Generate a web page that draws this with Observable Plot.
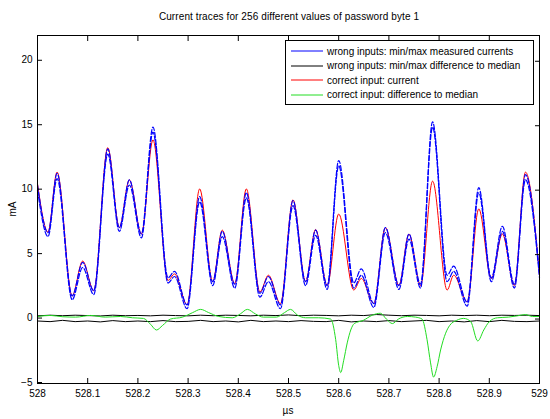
<!DOCTYPE html>
<html>
<head>
<meta charset="utf-8">
<script src="https://cdn.jsdelivr.net/npm/d3@7"></script>
<script src="https://cdn.jsdelivr.net/npm/@observablehq/plot@0.6"></script>
<style>
  html, body { margin: 0; padding: 0; background: #fff; }
  #wrap { position: relative; width: 550px; height: 419px; font-family: "Liberation Sans", Arial, sans-serif; color: #000; }
  #title { position: absolute; left: 0; top: 11px; width: 578px; text-align: center; font-size: 10px; letter-spacing: 0.1px; }
  #ylab { position: absolute; left: 12px; top: 209px; font-size: 10px; transform: translate(-50%, -50%) rotate(-90deg); }
  #xlab { position: absolute; left: 288px; top: 410px; font-size: 10px; transform: translate(-50%, -50%); }
  #legend { position: absolute; left: 285px; top: 40px; width: 247px; height: 63px; border: 1px solid #000; background: #fff; font-size: 10px; }
  .row { position: absolute; left: 5px; height: 14px; display: flex; align-items: center; white-space: nowrap; }
  .row svg { margin-right: 4px; }
  #chart { position: absolute; left: 0; top: 0; }
</style>
</head>
<body>
<div id="wrap">
  <div id="chart"></div>
  <div id="title"></div>
  <div id="ylab"></div>
  <div id="xlab"></div>
  <div id="legend"></div>
</div>
<script>
// ---- Text ----
const titleText = "Current traces for 256 different values of password byte 1";
const xLabel = "µs";
const yLabel = "mA";
const legendLabels = [
  "wrong inputs: min/max measured currents",
  "wrong inputs: min/max difference to median",
  "correct input: current",
  "correct input: difference to median"
];
const legendColors = ["#0000ff", "#000000", "#ff0000", "#22dd22"];

// ---- Ticks ----
const xTicks = [528, 528.1, 528.2, 528.3, 528.4, 528.5, 528.6, 528.7, 528.8, 528.9, 529];
const yTicks = [-5, 0, 5, 10, 15, 20];

// ---- Current traces (µs, mA) at peaks/troughs ----
const tTrace = [528.000, 528.021, 528.039, 528.069, 528.090, 528.112, 528.140, 528.163, 528.183, 528.207,
                528.230, 528.260, 528.273, 528.298, 528.323, 528.349, 528.368, 528.393, 528.416, 528.443,
                528.460, 528.484, 528.509, 528.534, 528.554, 528.577, 528.600, 528.630, 528.645, 528.670,
                528.693, 528.720, 528.740, 528.763, 528.787, 528.816, 528.829, 528.856, 528.879, 528.904,
                528.926, 528.950, 528.972, 529.000];
const redCurrent = [10.5, 6.75, 11.4, 1.8, 4.5, 2.2, 13.3, 7.1, 10.8, 6.6,
                    13.9, 3.0, 3.5, 1.1, 10.1, 2.9, 6.9, 2.75, 10.1, 2.1,
                    3.4, 1.2, 9.25, 2.9, 6.95, 2.6, 8.15, 2.25, 3.15, 1.2,
                    7.1, 2.6, 6.6, 2.6, 10.7, 2.25, 3.4, 1.35, 8.55, 3.15,
                    6.6, 2.6, 11.4, 3.4];
const blueMax = [10.4, 6.7, 11.3, 1.8, 4.4, 2.2, 13.2, 7.1, 10.8, 6.6,
                 14.9, 3.2, 3.7, 1.1, 9.5, 2.9, 6.8, 2.7, 9.8, 2.0,
                 3.3, 1.1, 9.2, 2.9, 6.9, 2.6, 12.3, 2.8, 3.9, 1.2,
                 7.1, 2.6, 6.6, 2.7, 15.3, 3.4, 4.1, 1.3, 10.2, 3.2,
                 7.2, 2.7, 11.2, 3.5];
const blueMin = [10.0, 6.4, 10.9, 1.5, 4.0, 1.9, 12.8, 6.8, 10.4, 6.3,
                 14.5, 2.8, 3.3, 0.8, 9.1, 2.6, 6.4, 2.4, 9.4, 1.7,
                 2.9, 0.8, 8.8, 2.6, 6.5, 2.3, 11.9, 2.4, 3.4, 0.9,
                 6.7, 2.3, 6.2, 2.4, 14.9, 2.9, 3.7, 1.0, 9.8, 2.9,
                 6.8, 2.4, 10.8, 3.2];

// ---- Correct input: difference to median ----
const tGreen = [528.000, 528.026, 528.050, 528.076, 528.106, 528.135, 528.165, 528.189, 528.211, 528.225,
                528.237, 528.249, 528.265, 528.289, 528.309, 528.325, 528.341, 528.361, 528.388, 528.404,
                528.418, 528.434, 528.450, 528.476, 528.492, 528.504, 528.518, 528.534, 528.560, 528.584,
                528.594, 528.600, 528.604, 528.610, 528.617, 528.624, 528.631, 528.649, 528.667, 528.683,
                528.695, 528.707, 528.719, 528.737, 528.753, 528.766, 528.776, 528.783, 528.789, 528.796,
                528.803, 528.813, 528.821, 528.835, 528.849, 528.863, 528.877, 528.889, 528.900, 528.916,
                528.938, 528.956, 528.972, 528.986, 529.000];
const greenDiff = [0.2, 0.28, 0.18, 0.15, 0.28, 0.15, 0.2, 0.1, 0.05, -0.4,
                   -0.85, -0.5, 0.0, 0.15, 0.5, 0.75, 0.5, 0.2, 0.1, 0.4,
                   0.75, 0.4, 0.15, 0.15, 0.5, 0.75, 0.3, 0.1, 0.1, 0.0,
                   -1.6, -3.6, -4.15, -3.2, -1.85, -0.85, -0.35, -0.1, 0.3, 0.45,
                   0.0, -0.35, 0.0, 0.2, 0.15, 0.0, -1.6, -3.4, -4.5, -3.7,
                   -2.4, -1.1, -0.5, -0.1, 0.05, -0.2, -1.7, -0.85, -0.2, 0.1,
                   0.15, 0.25, 0.35, 0.2, 0.2];

// ---- Wrong inputs: min/max difference to median ----
const tBlack = [528.000, 528.025, 528.050, 528.075, 528.100, 528.125, 528.150, 528.175, 528.200, 528.225,
                528.250, 528.275, 528.300, 528.325, 528.350, 528.375, 528.400, 528.425, 528.450, 528.475,
                528.500, 528.525, 528.550, 528.575, 528.600, 528.625, 528.650, 528.675, 528.700, 528.725,
                528.750, 528.775, 528.800, 528.825, 528.850, 528.875, 528.900, 528.925, 528.950, 528.975,
                529.000];
const blackMax = [0.25, 0.3, 0.26, 0.3, 0.27, 0.24, 0.3, 0.26, 0.28, 0.25,
                  0.3, 0.27, 0.25, 0.3, 0.26, 0.3, 0.28, 0.25, 0.3, 0.27,
                  0.32, 0.26, 0.3, 0.28, 0.25, 0.3, 0.27, 0.35, 0.3, 0.26,
                  0.3, 0.28, 0.25, 0.3, 0.27, 0.3, 0.26, 0.3, 0.28, 0.3,
                  0.27];
const blackMin = [-0.15, -0.2, -0.1, -0.2, -0.15, -0.22, -0.12, -0.2, -0.15, -0.2,
                  -0.12, -0.2, -0.18, -0.1, -0.2, -0.15, -0.22, -0.1, -0.2, -0.15,
                  -0.2, -0.12, -0.18, -0.2, -0.1, -0.22, -0.15, -0.2, -0.12, -0.2,
                  -0.15, -0.1, -0.2, -0.15, -0.22, -0.12, -0.2, -0.1, -0.18, -0.2,
                  -0.15];

// ---- Build tables ----
const traceRows = tTrace.map((t, i) => ({t, red: redCurrent[i], bmax: blueMax[i], bmin: blueMin[i]}));
const greenRows = tGreen.map((t, i) => ({t, v: greenDiff[i]}));
const blackRows = tBlack.map((t, i) => ({t, max: blackMax[i], min: blackMin[i]}));

const fmtX = d => String(+d.toFixed(1));

const chart = Plot.plot({
  width: 550,
  height: 419,
  marginLeft: 37,
  marginRight: 11,
  marginTop: 35,
  marginBottom: 36,
  style: {fontFamily: '"Liberation Sans", Arial, sans-serif', fontSize: "10px", color: "#000", background: "transparent", overflow: "visible"},
  x: {domain: [528, 529], label: null},
  y: {domain: [-5, 22], label: null},
  marks: [
    Plot.line(blackRows, {x: "t", y: "max", stroke: "#000", strokeWidth: 1}),
    Plot.line(blackRows, {x: "t", y: "min", stroke: "#000", strokeWidth: 1}),
    Plot.line(traceRows, {x: "t", y: "red", stroke: legendColors[2], strokeWidth: 1, curve: "monotone-x"}),
    Plot.line(traceRows, {x: "t", y: "bmax", stroke: legendColors[0], strokeWidth: 1.2, curve: "monotone-x", strokeDasharray: "5,2"}),
    Plot.line(traceRows, {x: "t", y: "bmin", stroke: legendColors[0], strokeWidth: 1.2, curve: "monotone-x", strokeDasharray: "5,2"}),
    Plot.line(greenRows, {x: "t", y: "v", stroke: legendColors[3], strokeWidth: 1, curve: "monotone-x"}),
    Plot.frame({stroke: "#000"}),
    Plot.axisX(xTicks, {anchor: "bottom", tickSize: -5, tickPadding: 11, tickFormat: fmtX, label: null}),
    Plot.axisX(xTicks, {anchor: "top", tickSize: -5, tickFormat: () => "", label: null}),
    Plot.axisY(yTicks, {anchor: "left", tickSize: -5, tickPadding: 10, dy: -1, label: null}),
    Plot.axisY(yTicks, {anchor: "right", tickSize: -5, tickFormat: () => "", label: null})
  ]
});
document.getElementById("chart").appendChild(chart);

document.getElementById("title").textContent = titleText;
document.getElementById("xlab").textContent = xLabel;
document.getElementById("ylab").textContent = yLabel;

const legend = document.getElementById("legend");
legendLabels.forEach((lab, i) => {
  const row = document.createElement("div");
  row.className = "row";
  row.style.top = (3 + i * 14.5) + "px";
  row.innerHTML = `<svg width="32" height="4"><line x1="0" y1="2" x2="32" y2="2" stroke="${legendColors[i]}" stroke-width="1"/></svg><span>${lab}</span>`;
  legend.appendChild(row);
});
</script>
</body>
</html>
